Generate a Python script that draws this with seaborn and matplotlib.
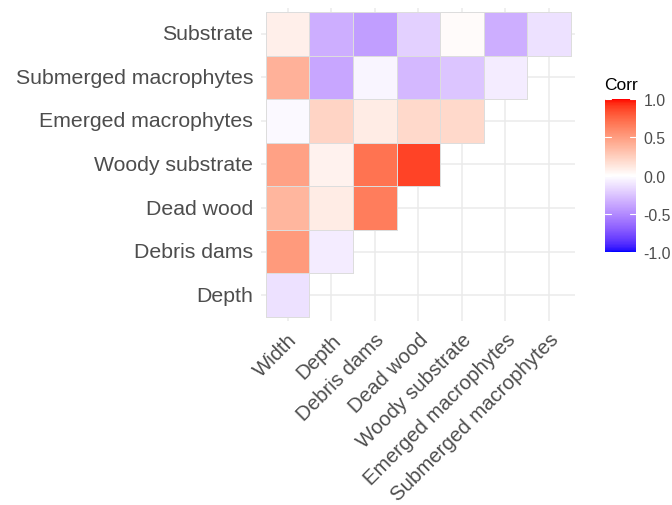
import numpy as np
import pandas as pd
import matplotlib
matplotlib.use("Agg")
import matplotlib.pyplot as plt
import seaborn as sns
from matplotlib.colors import ListedColormap

# ---- data ----
col_labels = ["Width", "Depth", "Debris dams", "Dead wood", "Woody substrate",
              "Emerged macrophytes", "Submerged macrophytes"]
row_labels = ["Substrate", "Submerged macrophytes", "Emerged macrophytes",
              "Woody substrate", "Dead wood", "Debris dams", "Depth"]
substrate = [0.08, -0.35, -0.42, -0.20, 0.02, -0.35, -0.13]
submerged = [0.40, -0.38, -0.04, -0.30, -0.25, -0.08]
emerged = [-0.03, 0.22, 0.10, 0.20, 0.20]
woody = [0.48, 0.07, 0.70, 0.88]
deadwood = [0.38, 0.10, 0.65]
debris = [0.52, -0.08]
depth = [-0.13]
rows_vals = [substrate, submerged, emerged, woody, deadwood, debris, depth]
cbar_ticks = [-1, -0.5, 0, 0.5, 1]
cbar_ticklabels = ["-1.0", "-0.5", "0.0", "0.5", "1.0"]

mat = np.full((7, 7), np.nan)
for i, vals in enumerate(rows_vals):
    mat[i, :len(vals)] = vals
df = pd.DataFrame(mat, index=row_labels, columns=col_labels)

# ---- colormap: blue-white-red interpolated in Lab (like ggplot gradient2) ----
M = np.array([[0.4124, 0.3576, 0.1805], [0.2126, 0.7152, 0.0722], [0.0193, 0.1192, 0.9505]])
WP = np.array([0.95047, 1.0, 1.08883])

def srgb_to_lab(rgb):
    rgb = np.asarray(rgb, float)
    lin = np.where(rgb <= 0.04045, rgb / 12.92, ((rgb + 0.055) / 1.055) ** 2.4)
    t = (M @ lin) / WP
    f = np.where(t > (6 / 29) ** 3, np.cbrt(t), t / (3 * (6 / 29) ** 2) + 4 / 29)
    return np.array([116 * f[1] - 16, 500 * (f[0] - f[1]), 200 * (f[1] - f[2])])

def lab_to_srgb(lab):
    L, a, b = lab
    fy = (L + 16) / 116
    fx = fy + a / 500
    fz = fy - b / 200
    def finv(f):
        return np.where(f > 6 / 29, f ** 3, 3 * (6 / 29) ** 2 * (f - 4 / 29))
    xyz = WP * np.array([finv(fx), finv(fy), finv(fz)])
    lin = np.clip(np.linalg.inv(M) @ xyz, 0, 1)
    rgb = np.where(lin <= 0.0031308, 12.92 * lin, 1.055 * lin ** (1 / 2.4) - 0.055)
    return np.clip(rgb, 0, 1)

blue = srgb_to_lab([0, 0, 1]); white = srgb_to_lab([1, 1, 1]); red = srgb_to_lab([1, 0, 0])
cols = []
for t in np.linspace(-1, 1, 256):
    lab = white + (blue - white) * (-t) if t < 0 else white + (red - white) * t
    cols.append(lab_to_srgb(lab))
cmap = ListedColormap(cols)

# ---- plot ----
sns.set_theme(style="white")
plt.rcParams['font.family'] = ['Liberation Sans', 'DejaVu Sans']
fig = plt.figure(figsize=(6.72, 5.06), dpi=100)
ax = fig.add_axes([0.389, 0.363, 0.467, 0.620])
cax = fig.add_axes([0.900, 0.500, 0.046, 0.302])

sns.heatmap(df, ax=ax, cmap=cmap, vmin=-1, vmax=1, linewidths=0.6,
            linecolor="#DDDDDD", square=False, cbar_ax=cax,
            cbar_kws={"ticks": cbar_ticks})

mesh = ax.collections[0]
edge = [(0.867, 0.867, 0.867, 1.0) if np.isfinite(v) else (0, 0, 0, 0) for v in mat.ravel()]
mesh.set_edgecolor(edge)
mesh.set_zorder(2)

ax.set_xlim(-0.1, 7.1)
ax.set_ylim(7.1, -0.1)
ax.set_axisbelow(True)
ax.grid(True, color="#EBEBEB", linewidth=1.1)
for s in ax.spines.values():
    s.set_visible(False)
ax.tick_params(length=0, pad=6, colors="#4D4D4D", labelsize=15.3)
ax.set_xlabel("")
ax.set_ylabel("")
ax.set_yticklabels(row_labels, rotation=0, color="#4D4D4D", fontsize=15.3)
ax.set_xticklabels(col_labels, rotation=45, ha="right", rotation_mode="anchor",
                   color="#4D4D4D", fontsize=14.7)

cax.tick_params(length=0, labelsize=11.4, colors="#4D4D4D", pad=5.5)
cax.set_yticklabels(cbar_ticklabels)
cb = mesh.colorbar
cb.outline.set_visible(False)
for v in cbar_ticks:
    cax.plot([0, 0.2], [v, v], color="white", lw=0.8, transform=cax.get_yaxis_transform())
    cax.plot([0.8, 1.0], [v, v], color="white", lw=0.8, transform=cax.get_yaxis_transform())
fig.text(0.899, 0.822, "Corr", fontsize=12.5, color="black", ha="left", va="baseline")

fig.savefig("out.png", dpi=100, facecolor="white")
